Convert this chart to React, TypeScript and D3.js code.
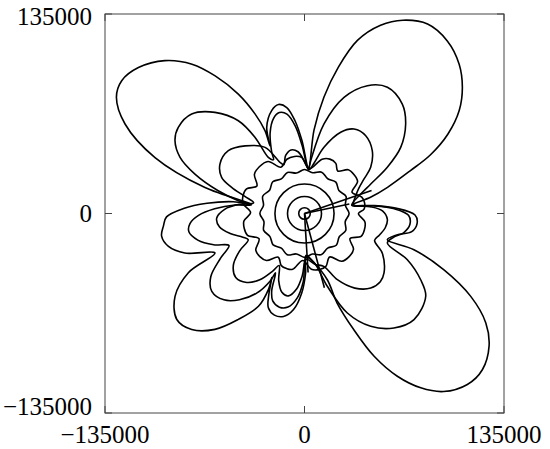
import { useRef, useEffect } from 'react';
import * as d3 from 'd3';

const axisMin = -135000;
const axisMax = 135000;
const tickValues = [-135000, 0, 135000];
const tickLabels = ['\u2212135000', '0', '135000'];

// plain circles at the middle (radius)
const circleRadii = [3900, 11500, 20000];

// closed curves: [angle in degrees (ccw from +x), radius in thousands]
const ringD: [number, number][] = [
  [0, 30.2], [11.25, 28.2], [22.5, 30.4], [33.75, 28.0], [45, 30.0], [56.25, 28.3], [67.5, 30.3], [78.75, 28.1],
  [90, 29.8], [101.25, 27.9], [112.5, 30.1], [123.75, 28.2], [135, 30.4], [146.25, 28.4], [157.5, 30.6], [168.75, 28.3],
  [180, 30.2], [191.25, 28.0], [202.5, 29.9], [213.75, 28.1], [225, 30.0], [236.25, 28.2], [247.5, 30.3], [258.75, 27.9],
  [270, 29.7], [281.25, 28.0], [292.5, 30.1], [303.75, 28.2], [315, 30.4], [326.25, 28.3], [337.5, 30.2], [348.75, 28.1],
];

const ringE: [number, number][] = [
  [0, 36.5], [4, 40.3], [10, 41.3], [16, 40.3], [24, 35.2], [31, 41.9], [38, 42.6], [45, 41.9],
  [52, 36.5], [58, 40.0], [65, 40.6], [72, 38.6], [84, 30.5], [93, 38.0], [100, 39.2], [108, 38.6],
  [117, 35.2], [125, 43.0], [134, 44.0], [142, 43.0], [150, 37.2], [157, 42.6], [164, 43.3], [171, 42.0],
  [179, 36.5], [187, 41.3], [194, 42.0], [201, 41.3], [209, 35.2], [217, 41.3], [224, 42.0], [231, 40.9],
  [239, 34.5], [246, 38.6], [252, 39.2], [258, 38.6], [268, 31.8], [277, 38.0], [285, 39.2], [292, 38.6],
  [300, 34.0], [308, 41.0], [316, 42.0], [324, 41.0], [331, 35.2], [338, 41.3], [345, 42.0], [352, 41.3],
];

const ringF: [number, number][] = [
  [10, 33.8], [20, 37.2], [25, 40.6], [30.1, 46.6], [34.9, 54.6], [42.8, 62.5], [51.8, 67.0], [59.6, 66.3],
  [66, 60.2], [73.6, 46.7], [79, 35.2], [84, 29.8], [90, 35.2], [96, 42.0], [102, 44.0], [108, 41.3],
  [113, 35.9], [115.6, 38.4], [120.8, 52.1], [131.3, 60.9], [140.5, 66.8], [149.6, 66.3], [156.4, 61.2], [160.2, 52.4],
  [164, 42.0], [168, 35.2], [172, 44.7], [177, 54.1], [183, 59.5], [189, 58.2], [195, 52.1], [201, 44.7],
  [205, 42.0], [210, 50.8], [216, 59.5], [223, 63.6], [230, 60.9], [236, 54.1], [241, 44.7], [244, 39.2],
  [249, 48.7], [254, 55.5], [259, 56.8], [264, 51.4], [268, 42.0], [272, 31.1], [282, 35.2], [290, 38.1],
  [296.4, 50.0], [304, 60.9], [311.6, 67.5], [318, 69.0], [323.2, 67.2], [333, 59.1], [339, 50.8], [344, 52.8],
  [350, 55.5], [356, 56.2], [2, 52.8], [6, 44.7],
];

const ringG: [number, number][] = [
  [10, 32.5], [19.1, 40.3], [24, 49.1], [29.2, 64.2], [34.5, 79.0], [41.5, 91.4], [48.2, 99.3], [56.7, 102.2],
  [63.8, 96.4], [71.2, 83.0], [77.7, 62.0], [83.3, 36.0], [85, 29.8], [92, 46.0], [96, 59.5], [100, 68.3],
  [104, 70.4], [108, 67.7], [113, 59.5], [118, 47.4], [120, 42.0], [122.8, 45.2], [123, 61.4], [125.5, 77.1],
  [131.5, 91.4], [138.6, 101.8], [145.7, 103.4], [150.6, 100.6], [155.7, 92.4], [160.2, 78.8], [165.2, 60.4], [169, 45.6],
  [171, 36.5], [173, 47.4], [177, 60.9], [181, 71.7], [185, 77.8], [189, 79.2], [194, 74.4], [199, 65.0],
  [203, 55.5], [208, 64.3], [214, 76.5], [220, 81.9], [227, 79.9], [233, 73.1], [239, 62.9], [243, 51.4],
  [244, 44.7], [247, 56.8], [250, 62.9], [255, 65.6], [260, 64.3], [265, 57.5], [269, 46.0], [272, 29.8],
  [281, 33.8], [287.4, 51.6], [293.3, 73.3], [300.4, 88.5], [308, 98.3], [315.9, 103.2], [325.7, 99.3], [330.3, 90.5],
  [335.8, 76.3], [340.4, 59.5], [345, 62.3], [349, 68.3], [354, 71.7], [359, 70.4], [3, 60.9], [6.5, 46.0],
];

const ringH: [number, number][] = [
  [10, 32.5], [13.8, 46.0], [17.5, 58.9], [22, 77.1], [25, 94.1], [29, 111.0], [33.7, 125.9], [38.6, 136.7],
  [44, 145.5], [50.4, 151.6], [57, 152.9], [63, 146.8], [68, 137.4], [73, 122.5], [77, 101.5], [80.5, 79.9],
  [83.5, 56.8], [85, 31.1], [92, 49.4], [95.8, 62.9], [99.5, 72.7], [103.4, 75.8], [107.7, 73.1], [113.7, 63.6],
  [117, 51.4], [115.5, 62.3], [116.4, 75.1], [119, 92.4], [123, 111.0], [127, 126.5], [132.4, 140.1], [138.7, 149.6],
  [144, 152.9], [148.3, 149.6], [153.5, 135.7], [159.5, 108.0], [165.4, 69.6], [170, 36.3], [170.6, 48.7], [174, 66.3],
  [177.6, 81.9], [181.4, 93.4], [185, 95.8], [189, 97.9], [193.6, 94.7], [198.3, 85.3], [203.8, 66.2], [207, 88.2],
  [212.6, 104.0], [219.7, 112.3], [225.8, 109.5], [232.3, 99.1], [238, 84.5], [243.6, 70.1], [244.6, 56.8], [243, 48.7],
  [246.5, 60.9], [249, 68.3], [253.5, 71.7], [258.5, 71.1], [263.5, 65.4], [268, 53.8], [271, 40.6], [272, 28.4],
  [280, 33.0], [289, 47.4], [290, 64.5], [293, 85.5], [296, 107.5], [299.7, 126.8], [303.7, 141.8], [308, 152.9],
  [313.6, 159.8], [318.7, 160.2], [324.3, 153.8], [328.9, 143.3], [333.5, 125.7], [338, 101.8], [341.7, 78.0], [342.4, 58.8],
  [346.9, 64.1], [350.4, 73.6], [355, 76.5], [359.2, 74.8], [3.2, 62.5], [6.5, 47.4],
];

const rings = [ringD, ringE, ringF, ringG, ringH];

// straight strokes leaving the centre: [angle, radius in thousands]
const spokes: [number, number][] = [[12, 31], [19, 48], [273.5, 40], [285, 52]];

export default function App() {
  const svgRef = useRef<SVGSVGElement>(null);
  const width = 550;
  const height = 449;

  useEffect(() => {
    const svg = d3.select(svgRef.current);
    svg.selectAll('*').remove();

    const x = d3.scaleLinear().domain([axisMin, axisMax]).range([105, 504]);
    const y = d3.scaleLinear().domain([axisMin, axisMax]).range([413, 14]);
    const rad = Math.PI / 180;
    const px = (d: [number, number]) => x(d[1] * 1000 * Math.cos(d[0] * rad));
    const py = (d: [number, number]) => y(d[1] * 1000 * Math.sin(d[0] * rad));

    // frame
    svg.append('rect')
      .attr('x', x(axisMin)).attr('y', y(axisMax))
      .attr('width', x(axisMax) - x(axisMin)).attr('height', y(axisMin) - y(axisMax))
      .attr('fill', 'none').attr('stroke', '#444').attr('stroke-width', 1);

    const tick = 7;
    tickValues.forEach((t) => {
      svg.append('line').attr('x1', x(t)).attr('x2', x(t)).attr('y1', y(axisMin)).attr('y2', y(axisMin) - tick).attr('stroke', '#444');
      svg.append('line').attr('x1', x(t)).attr('x2', x(t)).attr('y1', y(axisMax)).attr('y2', y(axisMax) + tick).attr('stroke', '#444');
      svg.append('line').attr('y1', y(t)).attr('y2', y(t)).attr('x1', x(axisMin)).attr('x2', x(axisMin) + tick).attr('stroke', '#444');
      svg.append('line').attr('y1', y(t)).attr('y2', y(t)).attr('x1', x(axisMax)).attr('x2', x(axisMax) - tick).attr('stroke', '#444');
    });

    const font = 'Liberation Serif, Times New Roman, Times, serif';
    svg.selectAll('.xlab')
      .data(tickValues)
      .join('text')
      .attr('class', 'xlab')
      .attr('x', (d) => x(d))
      .attr('y', 443)
      .attr('text-anchor', 'middle')
      .style('font-family', font)
      .style('font-size', '25px')
      .text((d, i) => tickLabels[i]);

    svg.selectAll('.ylab')
      .data(tickValues)
      .join('text')
      .attr('class', 'ylab')
      .attr('x', 92)
      .attr('y', (d) => Math.min(415, Math.max(25, y(d) + 8)))
      .attr('text-anchor', 'end')
      .style('font-family', font)
      .style('font-size', '25px')
      .text((d, i) => tickLabels[i]);

    const g = svg.append('g').attr('fill', 'none').attr('stroke', '#000').attr('stroke-width', 1.6);

    g.selectAll('circle')
      .data(circleRadii)
      .join('circle')
      .attr('cx', x(0))
      .attr('cy', y(0))
      .attr('r', (d) => x(d) - x(0));

    const line = d3.line<[number, number]>().x(px).y(py).curve(d3.curveCatmullRomClosed.alpha(0.5));
    g.selectAll('path.ring')
      .data(rings)
      .join('path')
      .attr('class', 'ring')
      .attr('d', (d) => line(d));

    g.selectAll('line.spoke')
      .data(spokes)
      .join('line')
      .attr('class', 'spoke')
      .attr('x1', x(0)).attr('y1', y(0))
      .attr('x2', (d) => px(d)).attr('y2', (d) => py(d));
  }, []);

  return (
    <svg ref={svgRef} width={width} height={height} style={{ position: 'absolute', left: 0, top: 0, background: '#fff' }} />
  );
}
